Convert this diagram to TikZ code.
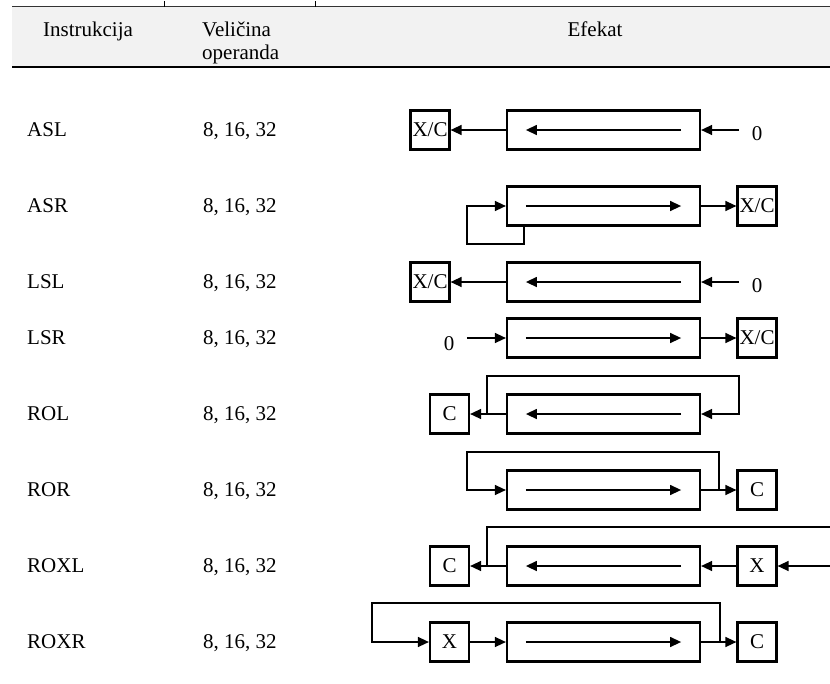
\documentclass[tikz,border=0pt]{standalone}
\usepackage{fontspec}
\setmainfont{Liberation Serif}
\usetikzlibrary{arrows.meta}
\definecolor{hdrgray}{HTML}{F2F2F2}
\tikzset{
	regbox/.style={draw, line width=2.2pt, minimum width=193pt, minimum height=39pt, inner sep=0pt},
	bitbox/.style={draw, line width=2.2pt, minimum width=39pt, minimum height=39pt, inner sep=0pt},
	arr/.style={line width=1.4pt, -{Triangle[length=11pt,width=10pt]}},
	conn/.style={line width=1.8pt},
	lbl/.style={anchor=base west, inner sep=0pt}
}
\begin{document}
\begin{tikzpicture}[x=1pt, y=-1pt, font=\fontsize{21}{25}\selectfont]
	\useasboundingbox (0,0) rectangle (830,683);
	\fill[hdrgray] (12,6.7) rectangle (830,67);
	\draw[line width=0.8pt, black!80] (12,6.7) -- (830,6.7);
	\draw[line width=0.8pt] (164,1) -- (164,6.7);
	\draw[line width=0.8pt] (315,1) -- (315,6.7);
	\draw[line width=2.5pt] (12,67) -- (830,67);
	\node[anchor=base, inner sep=0pt] (hInstr) at (88,36) {Instrukcija};
	\node[lbl] (hSize) at (202,36.5) {Veličina};
	\node[lbl] (hSize2) at (202,59.5) {operanda};
	\node[anchor=base, inner sep=0pt] (hEff) at (595,36) {Efekat};
	\node[lbl] (aslName) at (27,136.5) {ASL};
	\node[lbl] (asrName) at (27,212.5) {ASR};
	\node[lbl] (lslName) at (27,288.5) {LSL};
	\node[lbl] (lsrName) at (27,344.5) {LSR};
	\node[lbl] (rolName) at (27,420.5) {ROL};
	\node[lbl] (rorName) at (27,496.5) {ROR};
	\node[lbl] (roxlName) at (27,572.5) {ROXL};
	\node[lbl] (roxrName) at (27,648.5) {ROXR};
	\node[lbl] (aslSize) at (203,136.5) {8, 16, 32};
	\node[lbl] (asrSize) at (203,212.5) {8, 16, 32};
	\node[lbl] (lslSize) at (203,288.5) {8, 16, 32};
	\node[lbl] (lsrSize) at (203,344.5) {8, 16, 32};
	\node[lbl] (rolSize) at (203,420.5) {8, 16, 32};
	\node[lbl] (rorSize) at (203,496.5) {8, 16, 32};
	\node[lbl] (roxlSize) at (203,572.5) {8, 16, 32};
	\node[lbl] (roxrSize) at (203,648.5) {8, 16, 32};
	\node[regbox] (aslReg) at (603.5,130) {};
	\node[bitbox] (aslOut) at (430,130) {X/C};
	\node (aslZero) at (757,134) {0};
	\draw[arr] (aslReg.west) -- (aslOut.east);
	\draw[arr] ([xshift=38pt]aslReg.east) -- (aslReg.east);
	\draw[arr] ([xshift=-20pt]aslReg.east) -- ([xshift=20pt]aslReg.west);
	\node[regbox] (asrReg) at (603.5,206) {};
	\node[bitbox] (asrOut) at (757,206) {X/C};
	\draw[arr] (asrReg.east) -- (asrOut.west);
	\draw[arr] ([xshift=20pt]asrReg.west) -- ([xshift=-20pt]asrReg.east);
	\draw[conn, arr] ([xshift=18pt]asrReg.south west) |- ([xshift=-39pt, yshift=-38pt]asrReg.west) |- (asrReg.west);
	\node[regbox] (lslReg) at (603.5,282) {};
	\node[bitbox] (lslOut) at (430,282) {X/C};
	\node (lslZero) at (757,286) {0};
	\draw[arr] (lslReg.west) -- (lslOut.east);
	\draw[arr] ([xshift=38pt]lslReg.east) -- (lslReg.east);
	\draw[arr] ([xshift=-20pt]lslReg.east) -- ([xshift=20pt]lslReg.west);
	\node[regbox] (lsrReg) at (603.5,338) {};
	\node[bitbox] (lsrOut) at (757,338) {X/C};
	\node (lsrZero) at (449,344) {0};
	\draw[arr] ([xshift=-39pt]lsrReg.west) -- (lsrReg.west);
	\draw[arr] (lsrReg.east) -- (lsrOut.west);
	\draw[arr] ([xshift=20pt]lsrReg.west) -- ([xshift=-20pt]lsrReg.east);
	\node[regbox] (rolReg) at (603.5,414) {};
	\node[bitbox] (rolOut) at (449.5,414) {C};
	\draw[arr] (rolReg.west) -- (rolOut.east);
	\draw[arr] ([xshift=-20pt]rolReg.east) -- ([xshift=20pt]rolReg.west);
	\draw[conn, arr] ([xshift=-19pt]rolReg.west) |- ([xshift=38pt, yshift=38pt]rolReg.east) |- (rolReg.east);
	\node[regbox] (rorReg) at (603.5,490) {};
	\node[bitbox] (rorOut) at (757,490) {C};
	\draw[arr] (rorReg.east) -- (rorOut.west);
	\draw[arr] ([xshift=20pt]rorReg.west) -- ([xshift=-20pt]rorReg.east);
	\draw[conn, arr] ([xshift=18pt]rorReg.east) |- ([xshift=-39pt, yshift=38pt]rorReg.west) |- (rorReg.west);
	\node[regbox] (roxlReg) at (603.5,566) {};
	\node[bitbox] (roxlOut) at (449.5,566) {C};
	\node[bitbox] (roxlExt) at (757,566) {X};
	\coordinate (roxlEnd) at (830,566);
	\draw[arr] (roxlReg.west) -- (roxlOut.east);
	\draw[arr] (roxlExt.west) -- (roxlReg.east);
	\draw[arr] (roxlEnd) -- (roxlExt.east);
	\draw[arr] ([xshift=-20pt]roxlReg.east) -- ([xshift=20pt]roxlReg.west);
	\draw[conn] ([xshift=-19pt]roxlReg.west) |- ([xshift=2pt, yshift=39pt]roxlEnd);
	\node[regbox] (roxrReg) at (603.5,642) {};
	\node[bitbox] (roxrExt) at (449.5,642) {X};
	\node[bitbox] (roxrOut) at (757,642) {C};
	\draw[arr] (roxrExt.east) -- (roxrReg.west);
	\draw[arr] (roxrReg.east) -- (roxrOut.west);
	\draw[arr] ([xshift=20pt]roxrReg.west) -- ([xshift=-20pt]roxrReg.east);
	\draw[conn, arr] ([xshift=19pt]roxrReg.east) |- ([xshift=-57pt, yshift=39pt]roxrExt.west) |- (roxrExt.west);
\end{tikzpicture}
\end{document}
